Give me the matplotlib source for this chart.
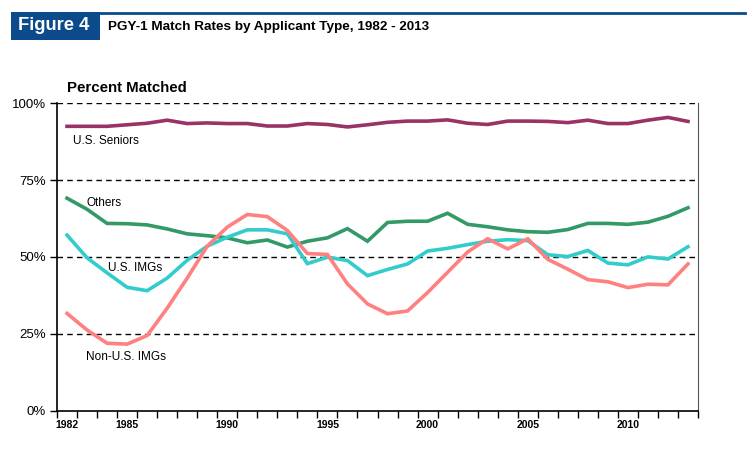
import numpy as np
import matplotlib.pyplot as plt
from matplotlib.patches import Rectangle
from matplotlib.lines import Line2D
from matplotlib.ticker import FixedLocator, NullFormatter

plt.rcParams['font.family'] = ['Liberation Sans', 'DejaVu Sans']

years = np.arange(1982, 2014)

us_seniors = [92.5, 92.5, 92.5, 93.0, 93.5, 94.5, 93.4, 93.6, 93.4, 93.4, 92.6, 92.6, 93.4, 93.1, 92.3, 93.0,
              93.8, 94.2, 94.2, 94.6, 93.5, 93.1, 94.2, 94.2, 94.1, 93.7, 94.5, 93.4, 93.4, 94.5, 95.4, 94.1]
others = [69.1, 65.5, 60.9, 60.8, 60.4, 59.1, 57.5, 56.9, 56.2, 54.6, 55.5, 53.2, 55.1, 56.2, 59.2, 55.1,
          61.2, 61.6, 61.6, 64.2, 60.6, 59.8, 58.8, 58.2, 58.0, 58.9, 60.9, 60.9, 60.6, 61.3, 63.2, 66.0]
us_imgs = [57.1, 49.7, 44.8, 40.1, 39.0, 43.1, 48.9, 53.5, 56.4, 58.8, 58.8, 57.5, 47.8, 49.9, 48.8, 43.9,
           45.9, 47.7, 51.9, 52.8, 54.0, 55.1, 55.6, 55.3, 50.7, 50.1, 52.1, 48.0, 47.4, 50.0, 49.3, 53.3]
non_us_imgs = [31.6, 26.2, 21.9, 21.6, 24.4, 33.3, 43.1, 53.5, 59.7, 63.8, 63.1, 58.6, 51.1, 50.8, 41.2, 34.7,
               31.5, 32.4, 38.4, 45.0, 51.6, 55.9, 52.6, 55.9, 49.2, 46.0, 42.6, 41.9, 40.0, 41.1, 40.9, 47.7]

series = [
    ("U.S. Seniors", us_seniors, "#993366"),
    ("Others", others, "#339966"),
    ("U.S. IMGs", us_imgs, "#33CCCC"),
    ("Non-U.S. IMGs", non_us_imgs, "#FF8080"),
]

fig = plt.figure(figsize=(7.52, 4.51), dpi=100)
ax = fig.add_axes([0.0758, 0.0898, 0.8524, 0.6812])

for name, vals, col in series:
    ax.plot(years, vals, color=col, lw=2.6, solid_joinstyle='miter')

ax.set_xlim(1981.5, 2013.5)
ax.set_ylim(0, 100)

for yv in [25, 50, 75, 100]:
    ax.axhline(yv, color='black', lw=1, ls=(0, (4, 3)), zorder=0.5)

ax.set_yticks([0, 25, 50, 75, 100])
ax.set_yticklabels(['0%', '25%', '50%', '75%', '100%'], fontsize=9.5)
ax.set_xticks([1982, 1985, 1990, 1995, 2000, 2005, 2010])
ax.set_xticklabels(['1982', '1985', '1990', '1995', '2000', '2005', '2010'], fontsize=7.5, fontweight='bold')
ax.tick_params(axis='x', which='major', length=0, pad=7)
ax.xaxis.set_minor_locator(FixedLocator(np.arange(1981.5, 2014, 1)))
ax.xaxis.set_minor_formatter(NullFormatter())
ax.tick_params(axis='x', which='minor', length=5, width=1, direction='out')
ax.tick_params(axis='y', length=5, width=1, direction='out', pad=3)

ax.spines['top'].set_visible(False)
ax.spines['right'].set_color('#555555')
ax.spines['left'].set_linewidth(1.2)
ax.spines['bottom'].set_linewidth(1.2)

# series labels
ax.text(1982.3, 87.8, "U.S. Seniors", fontsize=8.5, va='center')
ax.text(1982.95, 67.5, "Others", fontsize=8.5, va='center')
ax.text(1984.05, 46.4, "U.S. IMGs", fontsize=8.5, va='center')
ax.text(1982.95, 17.5, "Non-U.S. IMGs", fontsize=8.5, va='center')

# header
fig.add_artist(Line2D([12 / 752, 745 / 752], [1 - 12.5 / 451, 1 - 12.5 / 451], color='#0B4A8B', lw=2))
fig.add_artist(Rectangle((11 / 752, 1 - 40 / 451), 89 / 752, 28 / 451, color='#0B4A8B', lw=0))
fig.text(54 / 752, 1 - 26 / 451, "Figure 4", color='white', fontsize=13.2, fontweight='bold',
         ha='center', va='center')
fig.text(108 / 752, 1 - 27 / 451, "PGY-1 Match Rates by Applicant Type, 1982 - 2013", fontsize=9.7,
         fontweight='bold', va='center')
fig.text(67 / 752, 1 - 88 / 451, "Percent Matched", fontsize=10.8, fontweight='bold', va='center')

fig.savefig("out.png", dpi=100)
